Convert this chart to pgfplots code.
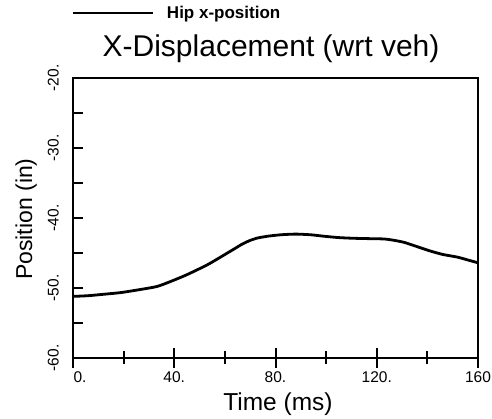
\documentclass[border=0pt]{standalone}
\usepackage{fontspec}
\setmainfont{Liberation Sans}
\usepackage{pgfplots}
\pgfplotsset{compat=1.18}
\pgfplotstableread{
t y
0 -51.2
6 -51.1
12 -50.9
19 -50.65
26 -50.25
33 -49.8
38 -49.15
45 -48.1
53 -46.7
58 -45.65
61 -45.0
64 -44.35
67 -43.7
70 -43.2
73 -42.85
77 -42.6
82 -42.4
88 -42.3
94 -42.4
99 -42.6
105 -42.8
111 -42.9
117 -42.95
123 -43.0
127 -43.2
131 -43.5
136 -44.1
141 -44.7
146 -45.2
152 -45.6
156 -46.0
160 -46.4
}\hipdata
\begin{document}
\begin{tikzpicture}[x=1pt,y=1pt]
\useasboundingbox (0,0) rectangle (492,419);
\begin{axis}[
  at={(73pt,61pt)}, anchor=south west,
  scale only axis, width=405pt, height=280pt,
  xmin=0, xmax=160, ymin=-60, ymax=-20,
  axis line style={line width=2pt},
  xtick=\empty,
  ytick={-60,-50,-40,-30,-20},
  yticklabels={-60.,-50.,-40.,-30.,-20.},
  minor ytick={-55,-45,-35,-25},
  ytick pos=left, ytick align=inside,
  major tick length=10pt, minor tick length=10pt,
  tick style={line width=2pt, black},
  yticklabel style={font=\fontsize{15.5}{17}\selectfont, xshift=-14pt, rotate=90, anchor=south, inner sep=0pt},
  title={X-Displacement (wrt veh)},
  title style={font=\fontsize{30}{33}\selectfont, at={(0.489,1.057)}, anchor=base, inner sep=0pt},
  xlabel={Time (ms)},
  xlabel style={font=\fontsize{24.5}{27}\selectfont, at={(0.506,-0.186)}, anchor=base, inner sep=0pt},
  ylabel={Position (in)},
  ylabel style={font=\fontsize{23}{25}\selectfont, at={(-0.101,0.496)}, anchor=base, inner sep=0pt},
  legend style={draw=none, fill=none, inner sep=0pt, at={(-0.003,1.232)}, anchor=west,
    font=\bfseries\fontsize{17}{19}\selectfont},
  legend image code/.code={\draw[line width=2pt] (0pt,0pt) -- (80pt,0pt);},
  legend cell align=left,
]
\addplot[black, line width=2.8pt, smooth, tension=0.4] table[x=t,y=y] {\hipdata};
\addlegendentry{\hspace*{11pt}Hip x-position}
\end{axis}
\begin{axis}[
  at={(73pt,61pt)}, anchor=south west,
  scale only axis, width=405pt, height=280pt,
  xmin=0, xmax=160, ymin=-60, ymax=-20,
  axis line style={draw=none},
  ytick=\empty,
  xtick={0,40,80,120,160},
  xticklabels={\hspace*{14pt}0.,40.,80.,120.,160},
  minor xtick={20,60,100,140},
  xtick pos=bottom, xtick align=center,
  major tick length=20pt, minor tick length=13pt,
  tick style={line width=2pt, black},
  xticklabel style={font=\fontsize{15.5}{17}\selectfont, inner sep=0pt, yshift=-3pt},
]
\end{axis}
\end{tikzpicture}
\end{document}
